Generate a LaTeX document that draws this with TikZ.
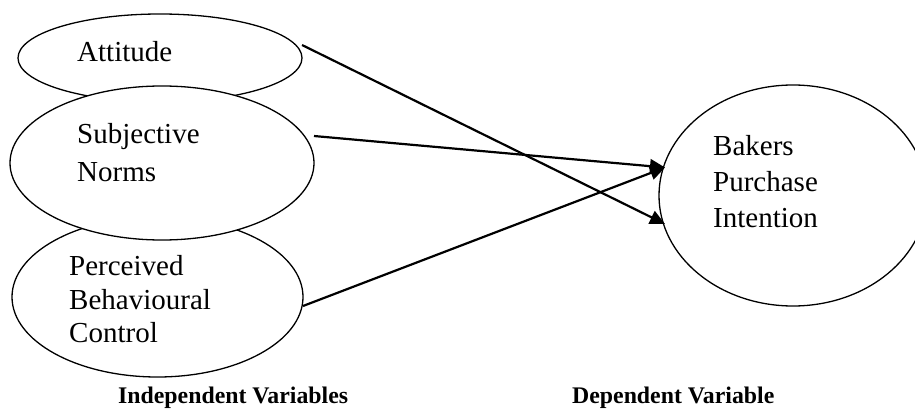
\documentclass[tikz,border=0pt]{standalone}
\usepackage{fontspec}
\setmainfont{Liberation Serif}
\usetikzlibrary{shapes.geometric,arrows.meta}
\tikzset{
  construct/.style={ellipse, draw=black, fill=white, line width=1.3pt,
    inner sep=0pt, outer sep=0pt},
  lbl/.style={anchor=base west, inner sep=0pt, font=\fontsize{29}{34}\selectfont},
  caption/.style={anchor=base west, inner sep=0pt, font=\fontsize{23.8}{28}\selectfont\bfseries},
  path/.style={line width=2.2pt, -{Triangle[length=15pt,width=14pt]}},
}
\begin{document}
\begin{tikzpicture}[x=1pt,y=-1pt]
\useasboundingbox (0,0) rectangle (915,409);
\begin{scope}
\clip (0,0) rectangle (915,409);
% independent constructs (Subjective Norms drawn last so it overlaps the others)
\node[construct, minimum width=291pt, minimum height=160pt] (pbc) at (157.5,297) {};
\node[construct, minimum width=284pt, minimum height=88pt]  (att) at (160,58) {};
\node[construct, minimum width=304pt, minimum height=154pt] (sn)  at (162,163) {};
% dependent construct
\node[construct, minimum width=268pt, minimum height=221pt] (bpi) at (793,195.5) {};
\end{scope}

% labels inside the ellipses
\node[lbl] (t1) at (77,62) {Attitude};
\node[lbl] (t2) at (77,143) {Subjective};
\node[lbl] (t3) at (77,181) {Norms};
\node[lbl] (t4) at (69,275) {Perceived};
\node[lbl] (t5) at (69,309) {Behavioural};
\node[lbl] (t6) at (69,342) {Control};
\node[lbl] (t7) at (713,155) {Bakers};
\node[lbl] (t8) at (713,191) {Purchase};
\node[lbl] (t9) at (713,227) {Intention};

% captions
\node[caption] (c1) at (118,403) {Independent Variables};
\node[caption] (c2) at (572,403) {Dependent Variable};

% connector end points
\coordinate (attOut) at (302,45);
\coordinate (snOut)  at (314,136);
\coordinate (pbcOut) at (303,306);
\coordinate (bpiInA) at (665,224);
\coordinate (bpiInB) at (665,167.5);

\draw[path] (attOut) -- (bpiInA);
\draw[path] (snOut)  -- (bpiInB);
\draw[path] (pbcOut) -- (bpiInB);
\end{tikzpicture}
\end{document}
